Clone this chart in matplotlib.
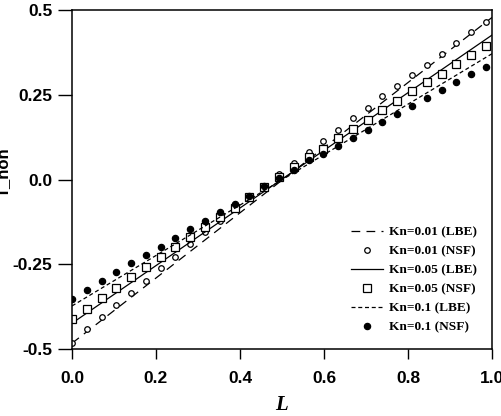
import matplotlib
matplotlib.use("Agg")
import matplotlib.pyplot as plt

# NSF sample positions
L_nsf = [0.000, 0.0352, 0.0704, 0.1056, 0.1408, 0.1760, 0.2112, 0.2464, 0.2816,
         0.3168, 0.3520, 0.3872, 0.4224, 0.4576, 0.4928, 0.5280, 0.5632, 0.5984,
         0.6336, 0.6688, 0.7040, 0.7392, 0.7744, 0.8096, 0.8448, 0.8800, 0.9152,
         0.9504, 0.9856]

nsf_001 = [-0.481, -0.441, -0.406, -0.370, -0.334, -0.298, -0.262, -0.228, -0.190,
           -0.154, -0.123, -0.088, -0.055, -0.020, 0.015, 0.048, 0.081, 0.114,
           0.147, 0.181, 0.212, 0.246, 0.277, 0.307, 0.338, 0.371, 0.402, 0.434, 0.464]
nsf_005 = [-0.412, -0.381, -0.351, -0.321, -0.289, -0.259, -0.228, -0.198, -0.171,
           -0.139, -0.110, -0.084, -0.052, -0.023, 0.007, 0.036, 0.066, 0.091,
           0.121, 0.148, 0.176, 0.206, 0.233, 0.260, 0.287, 0.312, 0.341, 0.368, 0.395]
nsf_01 = [-0.352, -0.326, -0.299, -0.274, -0.247, -0.223, -0.198, -0.172, -0.146,
          -0.122, -0.096, -0.072, -0.048, -0.018, 0.004, 0.028, 0.057, 0.076,
          0.099, 0.121, 0.147, 0.171, 0.194, 0.216, 0.240, 0.263, 0.287, 0.310, 0.331]

# LBE lines
L_lbe = [0.0, 0.5, 1.0]
lbe_001 = [-0.483, -0.002, 0.478]
lbe_005 = [-0.424, 0.001, 0.426]
lbe_01 = [-0.373, -0.001, 0.371]

xticks = [0.0, 0.2, 0.4, 0.6, 0.8, 1.0]
xticklabels = ["0.0", "0.2", "0.4", "0.6", "0.8", "1.0"]
yticks = [-0.5, -0.25, 0.0, 0.25, 0.5]
yticklabels = ["-0.5", "-0.25", "0.0", "0.25", "0.5"]

fig = plt.figure(figsize=(5.02, 4.16), dpi=100)
ax = fig.add_axes([72 / 502, 1 - 349 / 416, 420 / 502, 339 / 416])

ax.plot(L_lbe, lbe_001, color="black", lw=0.9, linestyle=(0, (7, 5)),
        label="Kn=0.01 (LBE)")
ax.plot(L_nsf, nsf_001, linestyle="none", marker="o", ms=4, mfc="white",
        mec="black", mew=0.9, label="Kn=0.01 (NSF)")
ax.plot(L_lbe, lbe_005, color="black", lw=0.9, linestyle="-",
        label="Kn=0.05 (LBE)")
ax.plot(L_nsf, nsf_005, linestyle="none", marker="s", ms=5.3, mfc="white",
        mec="black", mew=0.9, label="Kn=0.05 (NSF)")
ax.plot(L_lbe, lbe_01, color="black", lw=0.9, linestyle=(0, (3.2, 2.2)),
        label="Kn=0.1 (LBE)")
ax.plot(L_nsf, nsf_01, linestyle="none", marker="o", ms=4.5, mfc="black",
        mec="black", mew=0.9, label="Kn=0.1 (NSF)")

ax.set_xlim(0, 1)
ax.set_ylim(-0.5, 0.5)
ax.set_xticks(xticks)
ax.set_xticklabels(xticklabels)
ax.set_yticks(yticks)
ax.set_yticklabels(yticklabels)

tickfont = dict(family="Liberation Sans", weight="bold", size=12.5)
for lab in ax.get_xticklabels() + ax.get_yticklabels():
    lab.set_fontproperties(matplotlib.font_manager.FontProperties(**tickfont))

ax.tick_params(axis="y", direction="out", length=10, width=1.0, pad=4)
ax.tick_params(axis="x", direction="out", length=7, width=1.0, pad=9)
for s in ax.spines.values():
    s.set_linewidth(1.1)

ax.set_xlabel("L", fontdict=dict(family="Liberation Serif", weight="bold",
                                 style="italic", size=15), labelpad=6)
fig.text(3 / 502, 1 - 172 / 416, "T_non", rotation=90, ha="center", va="center",
         fontdict=dict(family="Liberation Sans", weight="bold", size=12))

leg = ax.legend(loc="lower right", bbox_to_anchor=(1.0, 0.0), frameon=False,
                prop=dict(family="Liberation Serif", weight="bold", size=9.6),
                handlelength=2.4, handletextpad=0.4, labelspacing=0.5,
                borderaxespad=0.75)

fig.savefig("out.png", dpi=100)
